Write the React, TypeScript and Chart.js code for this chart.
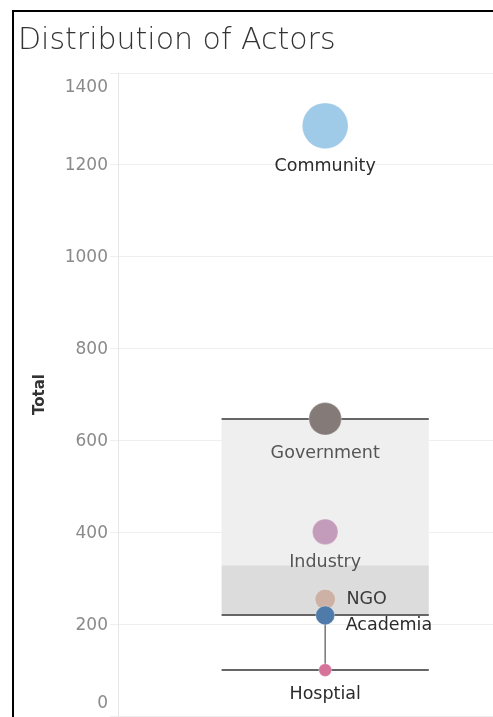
import React, { useEffect, useRef } from "react";
import { Chart, registerables } from "chart.js";

Chart.register(...registerables);

// ---- data ----
const categories = ["Community", "Government", "Industry", "NGO", "Academia", "Hosptial"];
const totals = [1285, 647, 401, 254, 219, 100];
const yTicks = [0, 200, 400, 600, 800, 1000, 1200, 1400];
// box plot summary
const boxLowWhisker = 100;
const boxQ1 = 219;
const boxMedian = 328;
const boxQ3 = 647;
const boxHighWhisker = 647;

// ---- styles ----
const pointColors = ["#a0cbe8", "#847b79", "#c49cbb", "#cdb1a5", "#4f7bab", "#d6739a"];
const labelColors = ["#2b2b2b", "#555555", "#555555", "#3a3a3a", "#2b2b2b", "#2b2b2b"];
// placement: "below" = centred under the mark; "right" = to the right of the mark (with dy)
const labelPlacement = [
  { mode: "below", dy: 0 },
  { mode: "below", dy: 0 },
  { mode: "below", dy: 0 },
  { mode: "right", dy: 0 },
  { mode: "right", dy: 10 },
  { mode: "below", dy: 0 },
];
const FONT = '"DejaVu Sans", "Open Sans", sans-serif';
const sizeOf = (v: number) => 0.64 * Math.sqrt(v);

const overlayPlugin = {
  id: "overlay",
  beforeDatasetsDraw(chart: any) {
    const { ctx, scales } = chart;
    const x = scales.x;
    const y = scales.y;
    const xl = x.getPixelForValue(-0.5);
    const xr = x.getPixelForValue(0.5);
    const xc = x.getPixelForValue(0);
    const yQ3 = y.getPixelForValue(boxQ3);
    const yMed = y.getPixelForValue(boxMedian);
    const yQ1 = y.getPixelForValue(boxQ1);
    const yLo = y.getPixelForValue(boxLowWhisker);
    const yHi = y.getPixelForValue(boxHighWhisker);
    ctx.save();
    ctx.fillStyle = "#efefef";
    ctx.fillRect(xl, yQ3, xr - xl, yMed - yQ3);
    ctx.fillStyle = "#dcdcdc";
    ctx.fillRect(xl, yMed, xr - xl, yQ1 - yMed);
    // whiskers
    ctx.strokeStyle = "#777777";
    ctx.lineWidth = 1.5;
    ctx.beginPath();
    ctx.moveTo(xc, yQ1);
    ctx.lineTo(xc, yLo);
    ctx.moveTo(xc, yQ3);
    ctx.lineTo(xc, yHi);
    ctx.stroke();
    ctx.strokeStyle = "#666666";
    ctx.lineWidth = 2;
    ctx.beginPath();
    [yHi, yQ3, yQ1, yLo].forEach((yy) => {
      ctx.moveTo(xl, Math.round(yy));
      ctx.lineTo(xr, Math.round(yy));
    });
    ctx.stroke();
    ctx.restore();
  },
  afterDatasetsDraw(chart: any) {
    const { ctx, scales } = chart;
    const x = scales.x;
    const y = scales.y;
    ctx.save();
    ctx.font = `17.5px ${FONT}`;
    categories.forEach((name, i) => {
      const px = x.getPixelForValue(0);
      const py = y.getPixelForValue(totals[i]);
      const r = sizeOf(totals[i]);
      const p = labelPlacement[i];
      ctx.fillStyle = labelColors[i];
      ctx.textBaseline = "middle";
      if (p.mode === "below") {
        ctx.textAlign = "center";
        ctx.fillText(name, px, py + r + 18 + p.dy);
      } else {
        ctx.textAlign = "left";
        ctx.fillText(name, px + r + 11, py + p.dy);
      }
    });
    // y tick labels (Tableau keeps the end labels inside the pane)
    ctx.font = `17px ${FONT}`;
    ctx.fillStyle = "#8a8a8a";
    ctx.textAlign = "right";
    ctx.textBaseline = "middle";
    yTicks.forEach((t, i) => {
      let py = y.getPixelForValue(t) + 1;
      if (i === 0) py -= 13;
      if (i === yTicks.length - 1) py += 14;
      ctx.fillText(String(t), y.right - 10, py);
    });
    // axis title
    ctx.save();
    ctx.translate(40, (y.top + y.bottom) / 2);
    ctx.rotate(-Math.PI / 2);
    ctx.textAlign = "center";
    ctx.fillStyle = "#333333";
    ctx.font = `bold 15px ${FONT}`;
    ctx.fillText("Total", 0, 0);
    ctx.restore();
    // chart title
    ctx.textAlign = "left";
    ctx.textBaseline = "alphabetic";
    ctx.fillStyle = "#333333";
    ctx.font = `200 30px ${FONT}`;
    ctx.fillText("Distribution of Actors", 18, 49);
    // frame
    ctx.fillStyle = "#000000";
    ctx.fillRect(12, 10, 2, chart.height - 10);
    ctx.fillRect(12, 10, chart.width - 12, 2);
    ctx.restore();
  },
};

export default function App() {
  const ref = useRef<HTMLCanvasElement | null>(null);
  useEffect(() => {
    if (!ref.current) return;
    const chart = new Chart(ref.current, {
      type: "scatter",
      data: {
        datasets: [
          {
            label: "Total",
            data: totals.map((v) => ({ x: 0, y: v })),
            pointRadius: totals.map(sizeOf),
            pointHoverRadius: totals.map(sizeOf),
            pointBackgroundColor: pointColors,
            pointBorderColor: "rgba(255,255,255,0.6)",
            pointBorderWidth: 0.5,
          },
        ],
      },
      options: {
        responsive: false,
        animation: false,
        events: [],
        layout: { autoPadding: false, padding: { left: 18, top: 73, right: 0, bottom: 1 } },
        plugins: { legend: { display: false }, title: { display: false }, tooltip: { enabled: false } },
        scales: {
          x: { type: "linear", min: -1, max: 0.81, display: false },
          y: {
            type: "linear",
            min: 0,
            max: 1400,
            afterFit: (s: any) => {
              s.width = 100;
            },
            afterBuildTicks: (s: any) => {
              s.ticks = yTicks.map((v) => ({ value: v }));
            },
            ticks: { display: false },
            grid: { color: "#efefef", lineWidth: 1, tickLength: 8, drawTicks: true },
            border: { display: true, color: "#e6e6e6" },
          },
        },
      },
      plugins: [overlayPlugin],
    });
    return () => chart.destroy();
  }, []);
  return (
    <div style={{ position: "fixed", left: 0, top: 0, width: 493, height: 717, background: "#fff" }}>
      <canvas ref={ref} width={493} height={717} style={{ display: "block" }} />
    </div>
  );
}
